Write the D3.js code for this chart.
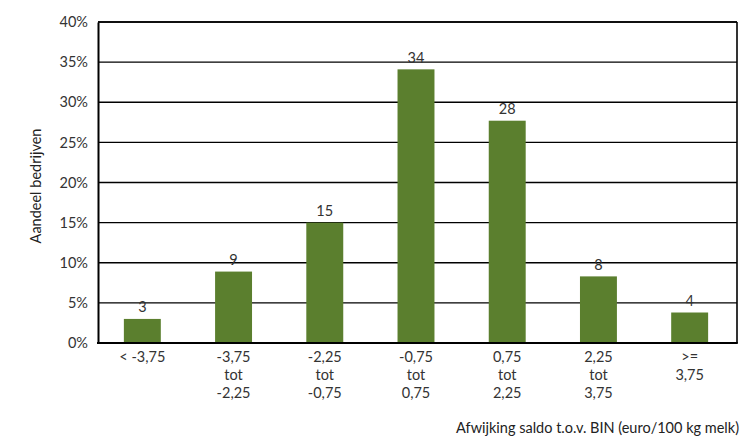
<!DOCTYPE html>
<html><head><meta charset="utf-8">
<script src="https://cdn.jsdelivr.net/npm/d3@7"></script>
<style>body{margin:0;background:#fff;} svg{display:block;}</style>
</head><body>
<svg id="c" width="741" height="437"></svg>
<script>
const categories = [["< -3,75"],["-3,75","tot","-2,25"],["-2,25","tot","-0,75"],["-0,75","tot","0,75"],["0,75","tot","2,25"],["2,25","tot","3,75"],[">=","3,75"]];
const values = [3.0, 8.9, 15.0, 34.1, 27.7, 8.3, 3.8];
const valueLabels = ["3","9","15","34","28","8","4"];
const yTicks = [0,5,10,15,20,25,30,35,40];
const yTitle = "Aandeel bedrijven";
const xTitle = "Afwijking saldo t.o.v. BIN (euro/100 kg melk)";

const svg = d3.select("#c");
const L = 98, R = 737, T = 22, B = 343;
const font = "Lato, 'Open Sans', sans-serif";
const x = d3.scaleBand().domain(d3.range(categories.length)).range([L-1.5, R-1.5]).paddingInner(0.595).paddingOuter(0.3);
const y = d3.scaleLinear().domain([0,40]).range([B, T]);

// gridlines
svg.append("g").selectAll("line").data(yTicks.filter(d=>d>0)).join("line")
  .attr("x1", L).attr("x2", R).attr("y1", d=>y(d)).attr("y2", d=>y(d))
  .attr("stroke", "#000").attr("stroke-width", 1.4);

// bars
svg.append("g").selectAll("rect").data(values).join("rect")
  .attr("x", (d,i)=>x(i)).attr("width", x.bandwidth())
  .attr("y", d=>y(d)).attr("height", d=>B - y(d))
  .attr("fill", "#5b7f2e");

// frame
svg.append("line").attr("x1", R).attr("x2", R).attr("y1", T).attr("y2", B).attr("stroke","#000").attr("stroke-width",1.6);
svg.append("line").attr("x1", L).attr("x2", R).attr("y1", T).attr("y2", T).attr("stroke","#000").attr("stroke-width",1.6);

// y axis
const yAxis = svg.append("g").attr("transform", `translate(${L},0)`)
  .call(d3.axisLeft(y).tickValues(yTicks).tickFormat(d=>d+"%").tickSize(0).tickPadding(10));
yAxis.select(".domain").attr("stroke","#000").attr("stroke-width",2);
yAxis.selectAll("text").attr("font-family", font).attr("font-size", 14.5).attr("fill","#333");

// x axis
const xAxis = svg.append("g").attr("transform", `translate(0,${B})`)
  .call(d3.axisBottom(x).tickSize(0).tickFormat(""));
xAxis.select(".domain").attr("d", `M${L-1},0H${R+0.8}`).attr("stroke","#000").attr("stroke-width",2.2);
xAxis.selectAll(".tick").each(function(d){
  const t = d3.select(this).append("text").attr("font-family", font).attr("font-size", 14.5)
    .attr("fill","#333").attr("text-anchor","middle");
  categories[d].forEach((line,k)=>{
    t.append("tspan").attr("x",0).attr("y", 19 + k*18).text(line);
  });
});

// value labels
svg.append("g").selectAll("text").data(values).join("text")
  .attr("x", (d,i)=>x(i)+x.bandwidth()/2).attr("y", d=>y(d)-6.5)
  .attr("text-anchor","middle").attr("font-family", font).attr("font-size", 14.5).attr("fill","#333")
  .text((d,i)=>valueLabels[i]);

// titles
svg.append("text").attr("transform", `translate(41,186) rotate(-90)`)
  .attr("text-anchor","middle").attr("font-family", font).attr("font-size", 14.5).attr("fill","#222").text(yTitle);
svg.append("text").attr("x", 739).attr("y", 433).attr("text-anchor","end")
  .attr("font-family", font).attr("font-size", 14.5).attr("fill","#222").text(xTitle);
</script>
</body></html>
